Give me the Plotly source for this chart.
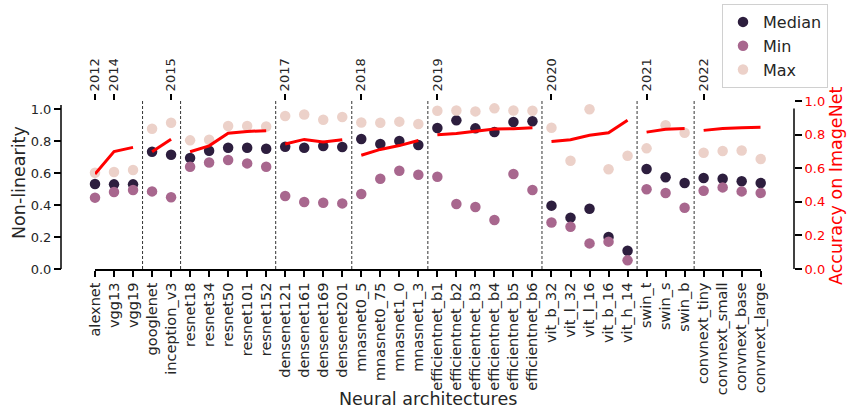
import plotly.graph_objects as go

# ---------------- data ----------------
categories = ["alexnet", "vgg13", "vgg19", "googlenet", "inception_v3",
              "resnet18", "resnet34", "resnet50", "resnet101", "resnet152",
              "densenet121", "densenet161", "densenet169", "densenet201",
              "mnasnet0_5", "mnasnet0_75", "mnasnet1_0", "mnasnet1_3",
              "efficientnet_b1", "efficientnet_b2", "efficientnet_b3",
              "efficientnet_b4", "efficientnet_b5", "efficientnet_b6",
              "vit_b_32", "vit_l_32", "vit_l_16", "vit_b_16", "vit_h_14",
              "swin_t", "swin_s", "swin_b",
              "convnext_tiny", "convnext_small", "convnext_base", "convnext_large"]

median_vals = [0.531, 0.529, 0.529, 0.733, 0.714, 0.694, 0.739, 0.758, 0.758, 0.752,
               0.764, 0.758, 0.769, 0.762, 0.812, 0.781, 0.800, 0.775,
               0.881, 0.929, 0.879, 0.856, 0.919, 0.923,
               0.396, 0.321, 0.377, 0.200, 0.114,
               0.625, 0.573, 0.537,
               0.569, 0.564, 0.548, 0.537]

min_vals = [0.446, 0.481, 0.494, 0.485, 0.448, 0.639, 0.666, 0.681, 0.660, 0.639,
            0.456, 0.419, 0.414, 0.410, 0.469, 0.564, 0.614, 0.589,
            0.577, 0.406, 0.387, 0.306, 0.594, 0.494,
            0.291, 0.264, 0.160, 0.171, 0.054,
            0.498, 0.475, 0.383,
            0.489, 0.510, 0.485, 0.475]

max_vals = [0.602, 0.606, 0.619, 0.877, 0.914, 0.804, 0.808, 0.894, 0.894, 0.891,
            0.956, 0.966, 0.933, 0.950, 0.916, 0.914, 0.921, 0.906,
            0.989, 0.991, 0.985, 1.004, 0.991, 0.989,
            0.883, 0.677, 0.998, 0.623, 0.708,
            0.754, 0.898, 0.852,
            0.727, 0.737, 0.741, 0.687]

accuracy = [0.5652, 0.6993, 0.7238, 0.6978, 0.7729,
            0.6976, 0.7331, 0.8086, 0.8189, 0.8228,
            0.7443, 0.7714, 0.7560, 0.7690,
            0.6773, 0.7118, 0.7346, 0.7651,
            0.7984, 0.8061, 0.8201, 0.8338, 0.8344, 0.8401,
            0.7591, 0.7697, 0.7966, 0.8107, 0.8855,
            0.8147, 0.8320, 0.8358,
            0.8252, 0.8362, 0.8406, 0.8441]

# number of models in each (year) group, in order
family_sizes = [3, 2, 5, 4, 4, 6, 5, 3, 4]

year_models = ["alexnet", "vgg13", "inception_v3", "densenet121", "mnasnet0_5",
               "efficientnet_b1", "vit_b_32", "swin_t", "convnext_tiny"]
year_labels = ["2012", "2014", "2015", "2017", "2018", "2019", "2020", "2021", "2022"]

left_ticks = [0.0, 0.2, 0.4, 0.6, 0.8, 1.0]
right_ticks = [0.0, 0.2, 0.4, 0.6, 0.8, 1.0]

# ---------------- style ----------------
W, H = 847, 409
FONT = "DejaVu Sans"
TXT = "#262626"
C_MED = "#2d1e3e"
C_MIN = "#a8678e"
C_MAX = "#ecd1c9"
RED = "#ff0000"


def fx(p):
    return p / W


def fy(p):
    return 1 - p / H


fig = go.Figure()

for name, vals, color in [("Median", median_vals, C_MED),
                          ("Min", min_vals, C_MIN),
                          ("Max", max_vals, C_MAX)]:
    fig.add_trace(go.Scatter(x=categories, y=vals, mode="markers", name=name,
                             marker=dict(size=10.5, color=color, line=dict(width=0)),
                             cliponaxis=False, xaxis="x", yaxis="y"))

start = 0
for size in family_sizes:
    fig.add_trace(go.Scatter(x=categories[start:start + size],
                             y=accuracy[start:start + size],
                             mode="lines", line=dict(color=RED, width=3),
                             showlegend=False, cliponaxis=False,
                             xaxis="x", yaxis="y2", hoverinfo="skip"))
    start += size

# helper trace so the top (year) axis is drawn
fig.add_trace(go.Scatter(x=categories, y=median_vals, xaxis="x2", yaxis="y",
                         mode="markers", marker=dict(opacity=0, size=1),
                         showlegend=False, hoverinfo="skip"))

# dashed separators between groups
shapes = []
pos = -0.5
for size in family_sizes[:-1]:
    pos += size
    shapes.append(dict(type="line", xref="x", yref="y domain", x0=pos, x1=pos,
                       y0=0, y1=1, line=dict(color="#333333", width=1, dash="3px,2px")))

# trimmed spines
shapes.append(dict(type="line", xref="paper", yref="y", x0=fx(61), x1=fx(61),
                   y0=0, y1=1.025, line=dict(color="black", width=1.5)))
shapes.append(dict(type="line", xref="paper", yref="y2", x0=fx(794), x1=fx(794),
                   y0=0, y1=0.955, line=dict(color="black", width=1.5)))

x_dom = [fx(95), fx(760.7)]
y_dom = [fy(269), fy(101)]

fig.update_layout(
    width=W, height=H,
    margin=dict(l=0, r=0, t=0, b=0, pad=0),
    paper_bgcolor="white", plot_bgcolor="white",
    font=dict(family=FONT, color=TXT, size=13),
    showlegend=True,
    legend=dict(x=fx(722), y=fy(4), xanchor="left", yanchor="top",
                bordercolor="#d0d0d0", borderwidth=1, bgcolor="white",
                font=dict(size=16, family=FONT, color=TXT),
                tracegroupgap=0, itemwidth=30),
    xaxis=dict(domain=x_dom, type="category", categoryorder="array",
               categoryarray=categories, range=[0, len(categories) - 1],
               anchor="y", showline=True, linecolor="black", linewidth=1.5,
               ticks="outside", ticklen=6, tickwidth=1.5, tickcolor="black",
               tickangle=-90, tickfont=dict(size=14.5, family=FONT, color=TXT),
               showgrid=False, zeroline=False, automargin=False),
    xaxis2=dict(overlaying="x", side="top", anchor="y", type="category",
                categoryorder="array", categoryarray=categories,
                range=[0, len(categories) - 1],
                tickmode="array", tickvals=year_models, ticktext=year_labels,
                ticks="outside", ticklen=6, tickwidth=1.5, tickcolor="black",
                tickangle=-90, tickfont=dict(size=13, family=FONT, color=TXT),
                showline=False, showgrid=False, zeroline=False, automargin=False),
    yaxis=dict(domain=y_dom, range=[0, 1.05], anchor="free", position=fx(61),
               tickmode="array", tickvals=left_ticks, tickformat=".1f",
               ticks="outside", ticklen=7, tickwidth=1.5, tickcolor="black",
               tickfont=dict(size=13, family=FONT, color=TXT),
               showline=False, showgrid=False, zeroline=False, automargin=False),
    yaxis2=dict(overlaying="y", side="right", anchor="free", position=fx(794),
                range=[0, 1.0], tickmode="array", tickvals=right_ticks,
                tickformat=".1f", ticks="outside", ticklen=7, tickwidth=1.5,
                tickcolor="black", tickfont=dict(size=13, family=FONT, color=RED),
                showline=False, showgrid=False, zeroline=False, automargin=False),
    shapes=shapes,
    annotations=[
        dict(text="Non-linearity", xref="paper", yref="paper", x=fx(19), y=fy(183),
             xanchor="center", yanchor="middle", textangle=-90, showarrow=False,
             font=dict(size=17.5, family=FONT, color=TXT)),
        dict(text="Accuracy on ImageNet", xref="paper", yref="paper", x=fx(836),
             y=fy(186), xanchor="center", yanchor="middle", textangle=-90,
             showarrow=False, font=dict(size=17.5, family=FONT, color=RED)),
        dict(text="Neural architectures", xref="paper", yref="paper", x=fx(427.5),
             y=fy(399), xanchor="center", yanchor="middle", showarrow=False,
             font=dict(size=17.5, family=FONT, color=TXT)),
    ],
)

fig.write_html("out.html",
               config={"displayModeBar": False},
               post_script="document.body.style.margin='0';"
                           "document.body.style.overflow='hidden';")
